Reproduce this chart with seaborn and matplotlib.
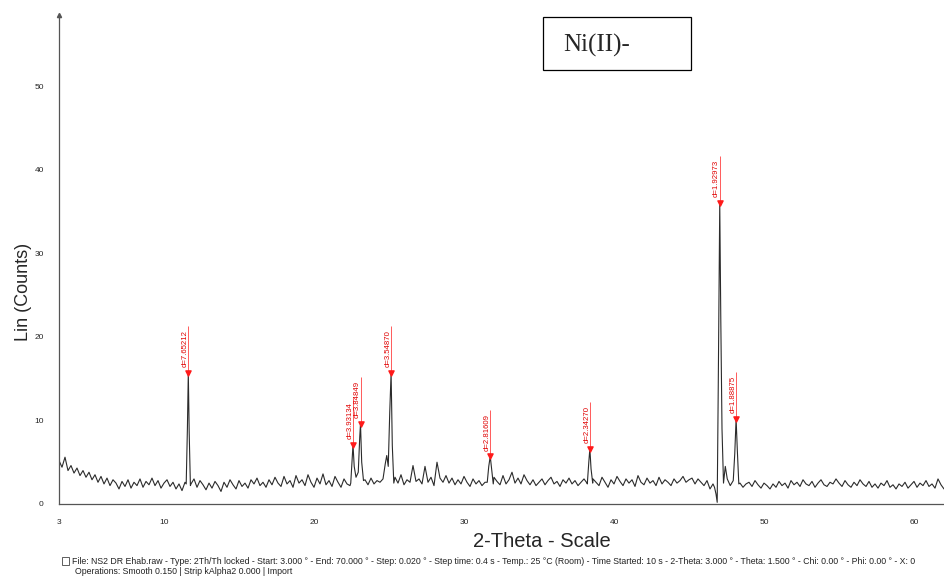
import numpy as np
import pandas as pd
import seaborn as sns
import matplotlib.pyplot as plt
from matplotlib.ticker import MultipleLocator, FixedLocator
from matplotlib.patches import Rectangle

# scan settings (background read every 0.2 deg)
scan_start = 3.0
scan_step = 0.2
base_counts = [
    5.2, 4.4, 5.6, 4.0, 4.6, 3.7, 4.3, 3.4, 4.0, 3.2,
    3.8, 2.9, 3.5, 2.6, 3.3, 2.4, 3.1, 2.2, 2.9, 2.5,
    1.8, 2.7, 2.1, 2.9, 1.9, 2.6, 2.2, 3.0, 2.0, 2.7,
    2.3, 3.1, 2.2, 2.8, 1.9, 2.5, 2.9, 2.1, 2.6, 1.8,
    2.4, 1.6, 2.6, 2.3, 2.4, 3.0, 2.0, 2.8, 2.3, 1.7,
    2.5, 1.9, 2.7, 2.2, 1.5, 2.6, 2.0, 2.9, 2.3, 1.8,
    2.8, 2.1, 2.5, 1.9, 2.9, 2.4, 3.1, 2.2, 2.6, 2.0,
    2.9, 2.3, 3.2, 2.5, 2.1, 3.3, 2.4, 2.8, 2.0, 3.4,
    2.5, 2.9, 2.2, 3.5, 2.6, 2.0, 3.1, 2.4, 3.6, 2.3,
    2.8, 2.1, 3.3, 2.6, 2.0, 3.0, 2.4, 2.2, 2.5, 2.9,
    2.7, 2.6, 2.9, 2.3, 3.1, 2.4, 2.8, 2.6, 3.0, 3.6,
    2.8, 2.4, 3.2, 2.5, 3.5, 2.3, 2.9, 2.6, 4.6, 2.7,
    3.0, 2.4, 4.5, 2.6, 3.2, 2.2, 5.0, 3.1, 2.6, 3.4,
    2.5, 3.1, 2.3, 2.9, 2.4, 3.3, 2.6, 2.1, 3.0, 2.4,
    2.8, 2.2, 2.6, 3.0, 2.5, 3.2, 2.7, 2.3, 3.4, 2.4,
    2.9, 3.8, 2.5, 3.1, 2.4, 3.5, 2.8, 2.3, 2.9, 2.2,
    2.6, 3.0, 2.3, 2.8, 3.2, 2.4, 2.7, 2.1, 2.9, 2.5,
    3.1, 2.4, 2.8, 2.2, 2.6, 3.0, 2.5, 2.9, 3.0, 2.6,
    2.2, 3.2, 2.6, 2.0, 2.9, 2.4, 3.3, 2.7, 2.2, 3.0,
    2.5, 2.9, 2.1, 3.4, 2.6, 2.3, 3.1, 2.5, 2.8, 2.2,
    3.2, 2.4, 2.9, 2.6, 2.2, 3.0, 2.5, 2.8, 3.3, 2.6,
    2.9, 3.1, 2.4, 3.0, 2.6, 2.2, 2.8, 1.8, 2.4, 1.5,
    2.5, 2.2, 2.6, 2.9, 2.3, 2.7, 2.2, 2.5, 2.0, 2.4,
    2.6, 2.1, 2.8, 2.3, 1.9, 2.5, 2.2, 1.8, 2.4, 2.0,
    2.7, 2.2, 2.5, 1.9, 2.8, 2.3, 2.6, 2.1, 2.9, 2.4,
    2.2, 2.7, 2.0, 2.5, 2.9, 2.3, 2.1, 2.6, 2.4, 3.0,
    2.5, 2.1, 2.8, 2.3, 2.0, 2.6, 2.2, 2.9, 2.4, 2.1,
    2.7, 2.0, 2.4, 1.9, 2.5, 2.2, 2.8, 2.0, 2.3, 1.8,
    2.4, 2.1, 2.6, 1.9, 2.3, 2.7, 2.0, 2.5, 2.2, 2.8,
    2.1, 2.4, 1.9, 3.0, 2.3, 1.8, 2.2, 1.9,
]

# peak regions read at finer spacing
seg1_x = [11.48, 11.56, 11.62, 11.68, 11.76]
seg1_y = [2.4, 9.0, 15.7, 8.5, 2.2]
seg2_x = [22.45, 22.55, 22.60, 22.68, 22.80, 22.95, 23.05, 23.10, 23.18, 23.30]
seg2_y = [2.5, 5.5, 7.1, 4.5, 3.2, 3.8, 8.0, 9.6, 5.0, 2.8]
seg3_x = [24.60, 24.75, 24.85, 24.95, 25.05, 25.14, 25.22, 25.32]
seg3_y = [3.0, 4.8, 5.8, 4.5, 11.0, 15.7, 7.0, 2.5]
seg4_x = [31.55, 31.65, 31.75, 31.85, 31.95]
seg4_y = [2.6, 4.5, 5.7, 4.0, 2.4]
seg5_x = [38.22, 38.32, 38.39, 38.47, 38.58]
seg5_y = [2.4, 5.0, 6.6, 4.2, 2.5]
seg6_x = [46.70, 46.80, 46.88, 46.95, 47.05, 47.12, 47.20, 47.30, 47.42,
          47.55, 47.75, 47.95, 48.05, 48.14, 48.22, 48.32]
seg6_y = [2.0, 1.2, 0.2, 14.0, 36.0, 22.0, 9.0, 2.5, 4.5,
          3.0, 2.2, 2.8, 6.0, 10.2, 6.5, 2.4]

# peak picks
peak_pos = [11.62, 22.60, 23.10, 25.14, 31.75, 38.39, 47.05, 48.14]
peak_top = [15.7, 7.1, 9.6, 15.7, 5.7, 6.6, 36.0, 10.2]
peak_lbl = ["d=7.65212", "d=3.93134", "d=3.84849", "d=3.54870",
            "d=2.81609", "d=2.34270", "d=1.92973", "d=1.88875"]

x_ticks = [3, 10, 20, 30, 40, 50, 60]
y_ticks = [0, 10, 20, 30, 40, 50]


def build_scan():
    ''' merge background with the peak regions '''
    bx = scan_start + scan_step * np.arange(len(base_counts))
    by = np.array(base_counts)
    segs = [(seg1_x, seg1_y), (seg2_x, seg2_y), (seg3_x, seg3_y),
            (seg4_x, seg4_y), (seg5_x, seg5_y), (seg6_x, seg6_y)]
    keep = np.ones(len(bx), dtype=bool)
    for sx, sy in segs:
        keep &= ~((bx >= min(sx) - 0.01) & (bx <= max(sx) + 0.01))
    xs = list(bx[keep])
    ys = list(by[keep])
    for sx, sy in segs:
        xs += sx
        ys += sy
    df = pd.DataFrame({'theta': xs, 'counts': ys}).sort_values('theta')
    return df


sns.set_style('white')
plt.rcParams['font.family'] = ['Liberation Sans', 'DejaVu Sans']

df = build_scan()

fig = plt.figure(figsize=(9.44, 5.77), dpi=100)
ax = fig.add_axes([59 / 944, 73 / 577, 1 - 59 / 944, (504 - 15) / 577])

sns.lineplot(data=df, x='theta', y='counts', ax=ax, color='#2b2b2b',
             lw=0.8, estimator=None, sort=False)

# peak markers and labels
ax.scatter(peak_pos, peak_top, marker='v', s=14, color='#ff1a1a', zorder=5)
for p, h, t in zip(peak_pos, peak_top, peak_lbl):
    ax.vlines(p, h, h + 5.6, color='#ff4040', lw=0.6)
    ax.text(p + 0.02, h + 0.7, t, rotation=90, ha='right', va='bottom',
            fontsize=5.6, color='#e00000')

ax.set_xlim(3, 62.0)
ax.set_ylim(0, 58.5)
ax.xaxis.set_major_locator(FixedLocator(x_ticks))
ax.xaxis.set_minor_locator(MultipleLocator(1))
ax.yaxis.set_major_locator(FixedLocator(y_ticks))
ax.yaxis.set_minor_locator(MultipleLocator(2))

for side in ['top', 'right']:
    ax.spines[side].set_visible(False)
for side in ['left', 'bottom']:
    ax.spines[side].set_color('#555555')
    ax.spines[side].set_linewidth(0.9)

ax.tick_params(axis='x', which='major', direction='out', length=5, width=0.7,
               color='#555555', labelsize=6, pad=6)
ax.tick_params(axis='x', which='minor', direction='out', length=3, width=0.6,
               color='#555555')
ax.tick_params(axis='y', which='major', direction='inout', length=6, width=0.7,
               color='#555555', labelsize=6, pad=8)
ax.tick_params(axis='y', which='minor', direction='inout', length=3, width=0.6,
               color='#555555')

ax.set_xlabel('2-Theta - Scale', fontsize=14.5, labelpad=3)
ax.set_ylabel('Lin (Counts)', fontsize=13, labelpad=5)
ax.xaxis.set_label_coords((542 - 59) / 885, -0.057, transform=ax.transAxes)
ax.yaxis.set_label_coords(-0.031, (504 - 292) / 489, transform=ax.transAxes)
ax.plot([3], [58.5], marker='^', ms=3, color='#555555', clip_on=False)

# sample box
fig.patches.append(Rectangle((543 / 944, 1 - 70 / 577), 148 / 944, 53 / 577,
                             transform=fig.transFigure, fill=False,
                             edgecolor='black', lw=0.9))
fig.text(563 / 944, 1 - 45 / 577, 'Ni(II)-', family='Liberation Serif',
         fontsize=18, va='center', ha='left')

# scan info footer
fig.patches.append(Rectangle((62 / 944, 1 - 565 / 577), 7 / 944, 8 / 577,
                             transform=fig.transFigure, fill=False,
                             edgecolor='#444444', lw=0.6))
fig.text(72 / 944, 1 - 561 / 577,
         'File: NS2 DR Ehab.raw - Type: 2Th/Th locked - Start: 3.000 \u00b0 - '
         'End: 70.000 \u00b0 - Step: 0.020 \u00b0 - Step time: 0.4 s - '
         'Temp.: 25 \u00b0C (Room) - Time Started: 10 s - 2-Theta: 3.000 \u00b0 - '
         'Theta: 1.500 \u00b0 - Chi: 0.00 \u00b0 - Phi: 0.00 \u00b0 - X: 0',
         fontsize=6.3, va='center', color='#222222')
fig.text(75 / 944, 1 - 572 / 577,
         'Operations: Smooth 0.150 | Strip kAlpha2 0.000 | Import',
         fontsize=6.3, va='center', color='#222222')

plt.savefig('out.png', dpi=100)
